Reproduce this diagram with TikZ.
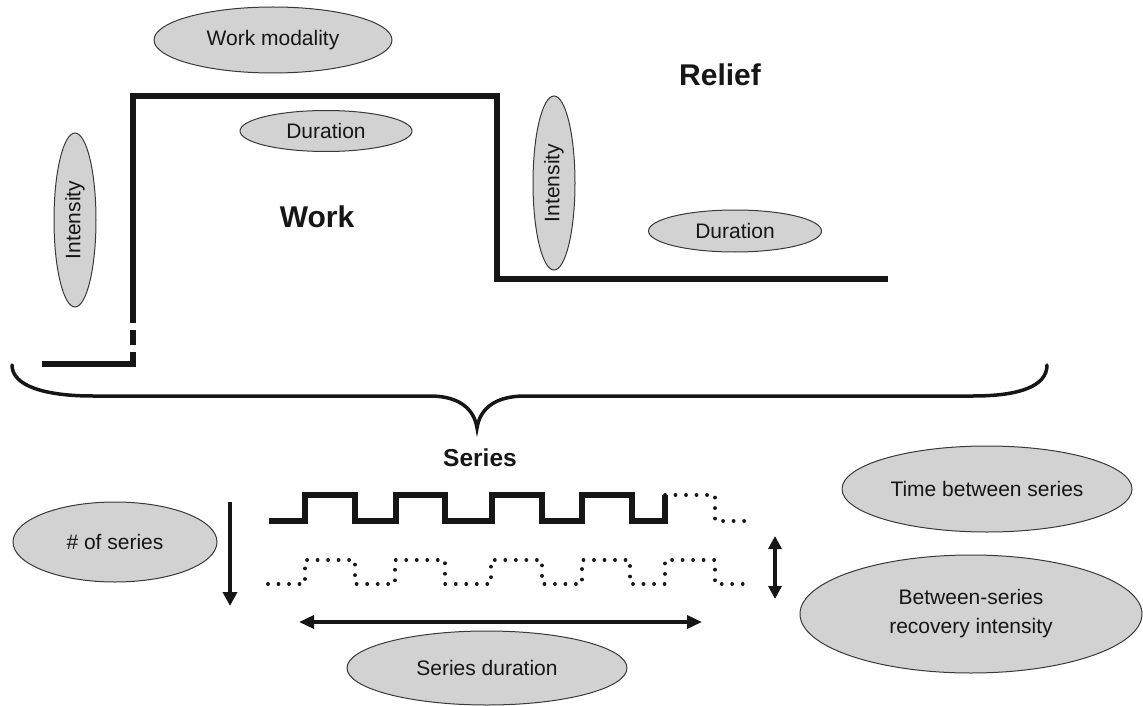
\documentclass[tikz,border=0pt]{standalone}
\usepackage{fontspec}
\setmainfont{Liberation Sans}
\usetikzlibrary{shapes.geometric,arrows.meta}
\definecolor{ellfill}{RGB}{209,210,209}
\definecolor{ink}{RGB}{22,22,22}
\begin{document}
\begin{tikzpicture}[x=1pt,y=-1pt,
  oval/.style={ellipse, draw=ink!85, line width=1pt, fill=ellfill, inner sep=0pt,
    font=\fontsize{21}{29}\selectfont, text=ink},
  bigtext/.style={font=\bfseries\fontsize{30}{34}\selectfont, text=ink, inner sep=0pt},
  workline/.style={line width=5.5pt, draw=ink, line join=miter},
  dotline/.style={line width=3.8pt, draw=ink, line cap=round, dash pattern=on 0.01pt off 10.5pt},
  braceline/.style={line width=3.5pt, draw=ink, line cap=round},
  arrowline/.style={line width=3.5pt, draw=ink},
  tipbig/.style={-{Triangle[length=14pt,width=14pt]}},
]
\useasboundingbox (0,0) rectangle (1143,706);

% ---- nodes (ellipses and labels)
\node[oval, minimum width=238pt, minimum height=66pt] (wm) at (273,40) {Work modality};
\node[oval, minimum width=172pt, minimum height=41pt] (dur1) at (326,131) {Duration};
\node[oval, rotate=90, minimum width=174pt, minimum height=42pt] (int1) at (75,220) {Intensity};
\node[bigtext] (work) at (317,217) {Work};
\node[oval, rotate=90, minimum width=174pt, minimum height=42pt] (int2) at (554,183) {Intensity};
\node[bigtext] (relief) at (720,75) {Relief};
\node[oval, minimum width=173pt, minimum height=42pt] (dur2) at (735,231) {Duration};
\node[font=\bfseries\fontsize{24.5}{28}\selectfont, text=ink, inner sep=0pt] (series) at (480,458) {Series};
\node[oval, minimum width=204pt, minimum height=80pt] (nos) at (115,542) {\# of series};
\node[oval, inner xsep=-5pt, minimum width=290pt, minimum height=86pt] (tbs) at (987,489) {Time between series};
\node[oval, align=center, minimum width=342pt, minimum height=118pt] (bsri) at (971,614) {Between-series\\recovery intensity};
\node[oval, minimum width=280pt, minimum height=74pt] (sdur) at (487,668) {Series duration};

% ---- work / relief profile
\coordinate (w0) at (42,364);
\coordinate (w1) at (133,364);
\coordinate (w2) at (133,358);
\coordinate (w3) at (133,323);
\coordinate (w4) at (133,96);
\coordinate (w5) at (497,96);
\coordinate (w6) at (497,279);
\coordinate (w7) at (888,279);
\draw[workline] (w0) -- (w1) -- (w2);
\draw[workline, dash pattern=on 6pt off 7pt on 15pt off 7pt] (w2) -- (w3);
\draw[workline] (w3) -- (w4) -- (w5) -- (w6) -- (w7);

% ---- brace
\coordinate (bl) at (12,365);
\coordinate (br) at (1047,365);
\coordinate (tip) at (477,428);
\draw[braceline] (bl) .. controls (12,386) and (45,396) .. (93,396) -- (430,396)
  .. controls (458,396) and (474,408) .. (tip)
  .. controls (480,408) and (496,396) .. (525,396) -- (973,396)
  .. controls (1020,396) and (1047,386) .. (br);

% ---- series waves
\coordinate (s0) at (269,521);
\coordinate (s1) at (665,495);
\coordinate (s2) at (748,521);
\draw[workline] (s0) -- (305,521) -- (305,495) -- (355,495) -- (355,521) -- (396,521) -- (396,495)
  -- (445,495) -- (445,521) -- (492,521) -- (492,495) -- (542,495) -- (542,521) -- (582,521)
  -- (582,495) -- (632,495) -- (632,521) -- (665,521) -- (s1);
\draw[dotline] (s1) -- (715,495) -- (715,521) -- (s2);

\coordinate (d0) at (268,584);
\coordinate (d1) at (748,584);
\draw[dotline] (d0) -- (305,584) -- (305,560) -- (355,560) -- (355,584) -- (395,584) -- (395,560)
  -- (445,560) -- (445,584) -- (491,584) -- (491,560) -- (542,560) -- (542,584) -- (582,584)
  -- (582,560) -- (630,560) -- (630,584) -- (665,584) -- (665,560) -- (715,560) -- (715,584) -- (d1);

% ---- arrows
\coordinate (na0) at (230,502);
\coordinate (na1) at (230,606);
\draw[arrowline, tipbig] (na0) -- (na1);
\coordinate (va0) at (775,536);
\coordinate (va1) at (775,599);
\draw[arrowline, {Triangle[length=13pt,width=13pt]}-{Triangle[length=13pt,width=13pt]}] (va0) -- (va1);
\coordinate (ha0) at (299,622);
\coordinate (ha1) at (702,622);
\draw[arrowline, {Triangle[length=15pt,width=13pt]}-{Triangle[length=15pt,width=13pt]}] (ha0) -- (ha1);
\end{tikzpicture}
\end{document}
